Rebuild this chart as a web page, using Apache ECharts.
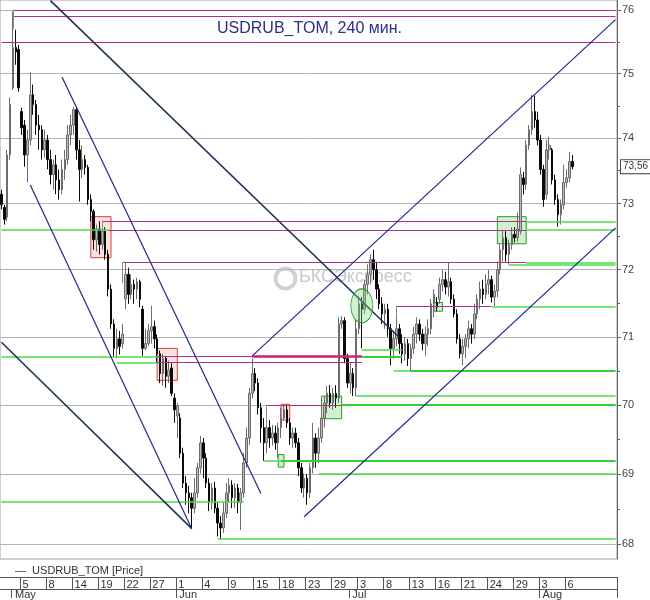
<!DOCTYPE html>
<html><head><meta charset="utf-8">
<script src="https://cdn.jsdelivr.net/npm/echarts@6/dist/echarts.min.js"></script>
<style>html,body{margin:0;padding:0;background:#fff}#c{width:650px;height:600px}</style>
</head><body><div id="c"></div>
<script>
// ---------- data ----------
const tradingDays = ['2020-04-28','2020-04-29','2020-04-30',
'2020-05-05','2020-05-06','2020-05-07','2020-05-08','2020-05-12','2020-05-13','2020-05-14','2020-05-15','2020-05-18','2020-05-19','2020-05-20','2020-05-21','2020-05-22','2020-05-25','2020-05-26','2020-05-27','2020-05-28','2020-05-29',
'2020-06-01','2020-06-02','2020-06-03','2020-06-04','2020-06-05','2020-06-08','2020-06-09','2020-06-10','2020-06-11','2020-06-15','2020-06-16','2020-06-17','2020-06-18','2020-06-19','2020-06-22','2020-06-23','2020-06-25','2020-06-26','2020-06-29','2020-06-30',
'2020-07-02','2020-07-03','2020-07-06','2020-07-07','2020-07-08','2020-07-09','2020-07-10','2020-07-13','2020-07-14','2020-07-15','2020-07-16','2020-07-17','2020-07-20','2020-07-21','2020-07-22','2020-07-23','2020-07-24','2020-07-27','2020-07-28','2020-07-29','2020-07-30','2020-07-31',
'2020-08-03','2020-08-04','2020-08-05','2020-08-06'];
const futureDays = ['2020-08-07','2020-08-10','2020-08-11','2020-08-12','2020-08-13'];
const barsPerDay = 3;

const dayTickDates = ['2020-05-05','2020-05-08','2020-05-14','2020-05-19','2020-05-22','2020-05-27','2020-06-01','2020-06-04','2020-06-09','2020-06-15','2020-06-18','2020-06-23','2020-06-29','2020-07-03','2020-07-08','2020-07-13','2020-07-16','2020-07-21','2020-07-24','2020-07-29','2020-08-03','2020-08-06'];
const dayTickLabels = ['5','8','14','19','22','27','1','4','9','15','18','23','29','3','8','13','16','21','24','29','3','6'];
const monthTickDates = ['2020-04-30','2020-06-01','2020-07-02','2020-08-03'];
const monthTickLabels = ['May','Jun','Jul','Aug'];

const yTickValues = [68,69,70,71,72,73,74,75,76];
const yMinorTickValues = [68.5,69.5,70.5,71.5,72.5,73.5,74.5,75.5];

// [open, close, low, high], 240-min bars
const candles = [
[73.14,72.98,72.91,73.21],[72.94,72.76,72.68,72.98],[72.79,73.74,72.73,73.82],[73.74,74.52,73.67,74.63],
[74.78,75.41,74.75,75.98],[75.41,75.34,75.14,75.69],[75.38,74.78,74.72,75.45],[74.41,74.16,74.05,74.47],
[74.20,73.74,73.56,74.28],[73.74,73.97,73.32,74.13],[73.97,74.67,73.89,75.02],[74.67,74.52,74.36,74.83],
[74.52,74.20,74.05,74.59],[74.20,74.13,73.82,74.36],[74.13,73.82,73.67,74.20],[73.82,73.97,73.70,74.13],
[73.97,73.67,73.52,74.05],[73.67,73.44,73.29,73.82],[73.44,73.59,73.21,73.67],[73.59,73.36,73.14,73.74],
[73.36,73.21,73.06,73.52],[73.21,73.52,73.14,73.67],[73.52,73.67,73.36,73.82],[73.67,74.05,73.59,74.20],
[74.05,74.20,73.89,74.36],[74.20,74.44,74.05,74.48],[74.44,73.82,73.67,74.47],[73.82,73.52,73.03,73.97],
[73.52,73.67,73.39,73.89],[73.67,73.55,73.44,73.74],[73.55,73.06,72.98,73.59],[73.06,72.88,72.73,73.14],
[72.88,72.45,72.30,72.91],[72.45,72.61,72.27,72.68],[72.61,72.38,72.23,72.73],[72.38,72.58,72.30,72.74],
[72.58,72.23,72.15,72.64],[72.23,71.71,71.60,72.30],[71.71,71.19,71.12,71.78],[71.19,70.83,70.71,71.26],
[70.83,70.97,70.68,71.12],[70.97,70.86,70.74,71.09],[70.90,71.04,70.83,71.19],[71.56,71.93,71.41,72.11],
[71.93,71.63,71.49,72.03],[71.63,71.78,71.56,71.93],[71.78,71.71,71.49,71.85],[71.71,71.82,71.56,71.88],
[71.82,71.56,71.44,71.85],[71.41,70.83,70.72,71.46],[70.83,70.90,70.80,71.12],[70.90,71.09,70.86,71.19],
[71.09,71.15,70.90,71.46],[71.15,70.97,70.83,71.24],[70.97,70.75,70.61,71.04],[70.75,70.46,70.32,70.80],
[70.46,70.68,70.28,70.75],[70.68,70.42,70.25,70.72],[70.42,70.51,70.32,70.65],[70.54,70.17,70.13,70.61],
[70.10,69.93,69.74,70.17],[69.84,69.99,69.52,70.03],[69.81,69.30,69.23,69.88],[69.30,68.87,68.80,69.38],
[68.87,68.73,68.56,68.97],[68.73,68.66,68.44,68.83],[68.66,68.51,68.23,68.73],[68.51,68.73,68.44,68.94],
[68.73,69.09,68.66,69.16],[69.09,69.45,69.01,69.55],[69.45,69.23,68.94,69.52],[69.23,68.87,68.80,69.30],
[68.87,68.59,68.47,68.94],[68.59,68.80,68.49,68.87],[68.80,68.51,68.44,68.89],[68.51,68.30,68.11,68.59],
[68.30,68.23,68.07,68.40],[68.23,68.44,68.16,68.59],[68.44,68.73,68.37,68.87],[68.73,68.84,68.59,68.94],
[68.84,68.66,68.51,68.91],[68.66,68.80,68.51,68.87],[68.80,68.59,68.44,68.86],[68.59,68.73,68.20,68.80],
[68.73,69.16,68.66,69.30],[69.16,69.52,69.09,69.67],[69.52,70.17,69.42,70.25],[70.17,70.46,70.10,70.68],
[70.46,70.32,70.20,70.54],[70.32,69.96,69.86,70.39],[69.96,69.67,69.45,70.03],[69.67,69.45,69.19,69.81],
[69.45,69.67,69.30,69.74],[69.67,69.52,69.38,69.78],[69.52,69.59,69.41,69.71],[69.59,69.45,69.35,69.70],
[69.45,69.67,69.23,69.74],[69.67,69.81,69.52,69.96],[69.81,69.93,69.78,70.01],[69.93,69.74,69.67,69.99],
[69.74,69.52,69.42,69.81],[69.52,69.59,69.38,69.67],[69.59,69.45,69.38,69.67],[69.45,69.09,68.97,69.52],
[69.09,68.80,68.73,69.16],[68.80,68.94,68.66,69.01],[68.94,68.73,68.56,69.00],[68.73,69.09,68.66,69.16],
[69.09,69.52,69.01,69.74],[69.52,69.30,69.09,69.59],[69.30,69.52,69.16,69.67],[69.52,69.81,69.45,69.96],
[69.81,70.03,69.67,70.13],[70.03,70.17,69.88,70.28],[70.17,70.03,69.96,70.29],[70.03,70.17,69.93,70.25],
[70.17,70.10,69.96,70.29],[70.10,71.19,70.03,71.29],[71.19,71.24,71.12,71.31],[71.24,70.68,70.61,71.29],
[70.68,70.32,70.25,70.75],[70.32,70.46,70.17,70.61],[70.46,70.25,70.13,70.54],[70.25,71.12,70.13,71.26],
[71.12,71.49,71.04,71.60],[71.49,71.41,70.83,71.59],[71.41,71.78,71.34,71.85],[71.78,71.93,71.63,72.08],
[71.93,72.15,71.78,72.23],[72.15,72.00,71.85,72.30],[72.00,71.71,71.56,72.12],[71.71,71.49,71.41,71.78],
[71.49,71.34,71.19,71.59],[71.34,71.41,71.12,71.49],[71.41,71.12,71.00,71.49],[71.12,70.83,70.58,71.19],
[70.83,70.97,70.68,71.09],[70.97,71.12,70.86,71.46],[71.12,70.90,70.75,71.19],[70.90,70.75,70.61,71.04],
[70.75,70.90,70.65,71.00],[70.90,70.68,70.57,70.97],[70.68,70.83,70.49,70.90],[70.83,71.04,70.75,71.15],
[71.04,71.19,70.90,71.29],[71.19,71.04,70.94,71.26],[71.04,70.90,70.80,71.12],[70.90,71.04,70.72,71.15],
[71.04,71.12,70.86,71.26],[71.12,71.49,71.04,71.56],[71.49,71.63,71.29,71.71],[71.51,71.44,71.38,71.59],
[71.56,71.78,71.49,71.88],[71.78,71.85,71.68,72.00],[71.85,71.74,71.63,71.97],[71.74,71.82,71.60,72.11],
[71.82,71.56,71.49,71.88],[71.56,71.34,71.29,71.63],[71.34,70.97,70.90,71.41],[70.97,70.75,70.68,71.04],
[70.75,70.86,70.58,70.97],[70.86,70.97,70.68,71.04],[70.97,71.12,70.83,71.24],[71.12,71.04,70.90,71.19],
[71.04,71.34,70.97,71.49],[71.34,71.56,71.26,71.63],[71.56,71.71,71.41,71.82],[71.71,71.63,71.49,71.85],
[71.63,71.78,71.56,71.93],[71.78,71.85,71.63,72.00],[71.85,71.59,71.51,71.91],[71.59,71.68,71.46,71.78],
[71.68,72.00,71.59,72.12],[72.00,72.30,71.93,72.38],[72.30,72.48,72.12,72.58],[72.48,72.23,72.12,72.58],
[72.23,72.38,72.08,72.45],[72.38,72.53,72.30,72.64],[72.53,72.48,72.41,72.64],[72.48,72.61,72.42,72.86],
[72.58,73.44,72.53,73.55],[73.39,73.29,73.14,73.48],[73.29,73.89,73.21,73.97],[73.89,74.13,73.82,74.20],
[74.13,74.41,74.05,74.67],[74.41,74.28,74.16,74.66],[74.28,73.97,73.89,74.41],[73.97,73.52,73.44,74.05],
[73.52,73.06,72.95,73.59],[73.14,73.82,73.06,73.97],[73.82,73.89,73.67,74.02],[73.82,73.36,73.29,73.85],
[73.36,73.06,72.98,73.44],[73.06,72.83,72.65,73.14],[72.83,72.98,72.68,73.06],[72.98,73.32,72.91,73.59],
[73.32,73.39,73.24,73.52],[73.39,73.64,73.32,73.79],[73.64,73.56,73.52,73.74]
];
const lastPriceLabel = '73,56';

// horizontal levels: [startBar, endBar, price, kind]
const levels = [
 [4,213,76.00,'m'],[4,213,75.91,'m'],[0,213,75.50,'m'],
 [35,182,72.73,'m'],[182,213,72.73,'g'],
 [0,37,72.60,'g'],[37,182,72.60,'m'],[182,213,72.60,'g'],
 [42,182,72.11,'m'],[182,213,72.11,'g'],
 [176,213,72.07,'g'],
 [137,170,71.45,'m'],[170,213,71.45,'g'],
 [125,139,70.81,'g'],
 [0,54,70.71,'g'],[54,87,70.71,'m'],[87,125,70.71,'mT'],[125,139,70.71,'gT'],
 [40,54,70.62,'g'],[54,125,70.62,'m'],
 [136,142,70.50,'g'],[142,213,70.50,'gT'],
 [123,213,70.13,'g'],
 [92,118,70.00,'m'],[118,213,70.00,'gT'],
 [91,97,69.19,'g'],[97,213,69.19,'gT'],
 [110,213,69.01,'g'],
 [0,84,68.61,'g'],
 [75,213,68.07,'g']
];
// trend lines: [bar1, price1, bar2, price2, kind]
const trendLines = [
 [17,76.15,138,70.99,'dark'],
 [0,70.92,66,68.22,'dark'],
 [10,73.28,66,68.22,'navy'],
 [21,74.95,90,68.72,'navy'],
 [87,70.72,213,75.85,'navy'],
 [105,68.39,213,72.63,'navy']
];
// connector ticks from a level start to the bar: [bar, price1, price2]
const connectors = [
 [4,76.00,75.70],[35,72.74,72.58],[42,72.11,71.80],[92,70.00,69.70],[137,71.45,71.30],[54,70.71,70.62]
];
// boxes: [bar1, bar2, priceTop, priceBottom, kind]
const boxes = [
 [31,38,72.80,72.18,'red'],
 [54,61,70.83,70.36,'red'],
 [97,100,70.01,69.78,'red'],
 [111,118,70.13,69.80,'green'],
 [96,98,69.28,69.10,'green'],
 [150,153,71.51,71.38,'green'],
 [172,182,72.80,72.39,'green']
];
// ellipse marks: [bar, price]
const ellipses = [[125,71.46]];

// ---------- styles ----------
const lineStyles = {
  m:{color:'#b42f88',width:1.2}, mT:{color:'#d41c78',width:2.5},
  g:{color:'#4bdc4b',width:1.5}, gT:{color:'#33d033',width:2.2},
  dark:{color:'#1d3457',width:1.6}, navy:{color:'#22278a',width:1.2},
  conn:{color:'#8a8a8a',width:1}
};
const boxStyles = {
  red:{color:'rgba(240,150,140,0.28)',borderColor:'#c8473a',borderWidth:1},
  green:{color:'rgba(120,215,120,0.35)',borderColor:'#2f952f',borderWidth:1}
};

// ---------- build ----------
const L = Math.log;
const cats = [tradingDays[0] + ' 3'];
tradingDays.slice(1).concat(futureDays).forEach(d => { for (let k = 1; k <= barsPerDay; k++) cats.push(d + ' ' + k); });
const dayTickIdx = new Map();
dayTickDates.forEach((d, j) => dayTickIdx.set(cats.indexOf(d + ' 1'), dayTickLabels[j]));
const monthTickIdx = new Map();
monthTickDates.forEach((d, j) => monthTickIdx.set(cats.indexOf(d + ' 1'), monthTickLabels[j]));

const yMin = L(67.79), yMax = L(76.16);

const markLineData = [];
levels.forEach(([a, b, p, k]) => markLineData.push([{coord:[a, L(p)], lineStyle:Object.assign({type:'solid'}, lineStyles[k])}, {coord:[b, L(p)]}]));
trendLines.forEach(([a, p1, b, p2, k]) => markLineData.push([{coord:[a, L(p1)], lineStyle:Object.assign({type:'solid'}, lineStyles[k])}, {coord:[b, L(p2)]}]));
connectors.forEach(([a, p1, p2]) => markLineData.push([{coord:[a, L(p1)], lineStyle:Object.assign({type:'solid'}, lineStyles.conn)}, {coord:[a, L(p2)]}]));
markLineData.push({yAxis: L(candles[candles.length-1][1]), lineStyle:{width:0, color:'rgba(0,0,0,0)'},
  label:{show:true, position:'end', distance:4, offset:[0,9], formatter:lastPriceLabel, color:'#333', fontSize:10,
         backgroundColor:'#fff', borderColor:'#444', borderWidth:1, padding:[2,2,1,2]}});

const font = 'Liberation Sans, Arial, sans-serif';
const chart = echarts.init(document.getElementById('c'), null, {renderer:'canvas'});
chart.setOption({
  animation:false,
  backgroundColor:'#fff',
  textStyle:{fontFamily:font},
  title:{text:'USDRUB_TOM, 240 мин.', left:217, top:21, padding:0,
         textStyle:{color:'#2a2f8a', fontSize:16, fontWeight:'normal', fontFamily:font}},
  graphic:[
    {type:'circle', left:273, top:266, z:0, shape:{r:10}, style:{fill:'none', stroke:'#d2d2d2', lineWidth:4}},
    {type:'text', left:299, top:268, z:0, style:{text:'БКСЭкспресс', fill:'#c9c9c9', font:'18px Liberation Sans'}},
    {type:'text', left:15, top:565, style:{text:'—  USDRUB_TOM [Price]', fill:'#333', font:'11px Liberation Sans'}}
  ],
  grid:{left:0, right:33, top:0, bottom:39, show:true, borderColor:'#a0a0a0', borderWidth:1},
  xAxis:[
    {type:'category', data:cats, position:'bottom', offset:18, boundaryGap:true,
     axisLine:{show:true, lineStyle:{color:'#555', width:1}},
     axisTick:{show:true, interval:(i)=>dayTickIdx.has(i), length:12, lineStyle:{color:'#555'}},
     axisLabel:{show:true, interval:(i)=>dayTickIdx.has(i), formatter:(v,i)=>dayTickIdx.get(i) || '',
                align:'left', margin:2, fontSize:11, color:'#333', padding:[0,0,0,1]},
     splitLine:{show:false}},
    {type:'category', data:cats, position:'bottom', offset:30, boundaryGap:true,
     axisLine:{show:true, lineStyle:{color:'#555', width:1}},
     axisTick:{show:true, interval:(i)=>monthTickIdx.has(i), length:9, lineStyle:{color:'#555'}},
     axisLabel:{show:true, interval:(i)=>monthTickIdx.has(i), formatter:(v,i)=>monthTickIdx.get(i) || '',
                align:'left', margin:0, fontSize:11, color:'#333', padding:[0,0,0,2]},
     splitLine:{show:false}}
  ],
  yAxis:[
    {type:'value', min:yMin, max:yMax, position:'right',
     axisLine:{show:true, lineStyle:{color:'#666'}},
     axisTick:{show:true, customValues:yTickValues.map(L), length:4, lineStyle:{color:'#666'}},
     axisLabel:{show:true, customValues:yTickValues.map(L), formatter:(v)=>String(Math.round(Math.exp(v))),
                margin:5, fontSize:11, color:'#444'},
     splitLine:{show:true, lineStyle:{color:'#b4b4b4', width:1}}},
    {type:'value', min:yMin, max:yMax, position:'right',
     axisLine:{show:false},
     axisTick:{show:true, customValues:yMinorTickValues.map(L), length:3, lineStyle:{color:'#666'}},
     axisLabel:{show:false}, splitLine:{show:false}}
  ],
  series:[{
    type:'candlestick', name:'USDRUB_TOM [Price]', xAxisIndex:0, yAxisIndex:0,
    data:candles.map(c => c.map(L)),
    barWidth:'70%',
    itemStyle:{color:'#b9b9b9', color0:'#0a0a0a', borderColor:'#6c6c6c', borderColor0:'#0a0a0a', borderWidth:1},
    markLine:{silent:true, symbol:['none','none'], animation:false, label:{show:false}, data:markLineData},
    markArea:{silent:true, data:boxes.map(([a,b,pt,pb,k]) => [{coord:[a, L(pt)], itemStyle:boxStyles[k]}, {coord:[b, L(pb)]}])},
    markPoint:{silent:true, animation:false, label:{show:false},
      data:ellipses.map(([a,p]) => ({coord:[a, L(p)], symbol:'circle', symbolSize:[22,34],
        itemStyle:{color:'rgba(120,215,120,0.35)', borderColor:'#2f952f', borderWidth:1}}))}
  }]
});
</script></body></html>
